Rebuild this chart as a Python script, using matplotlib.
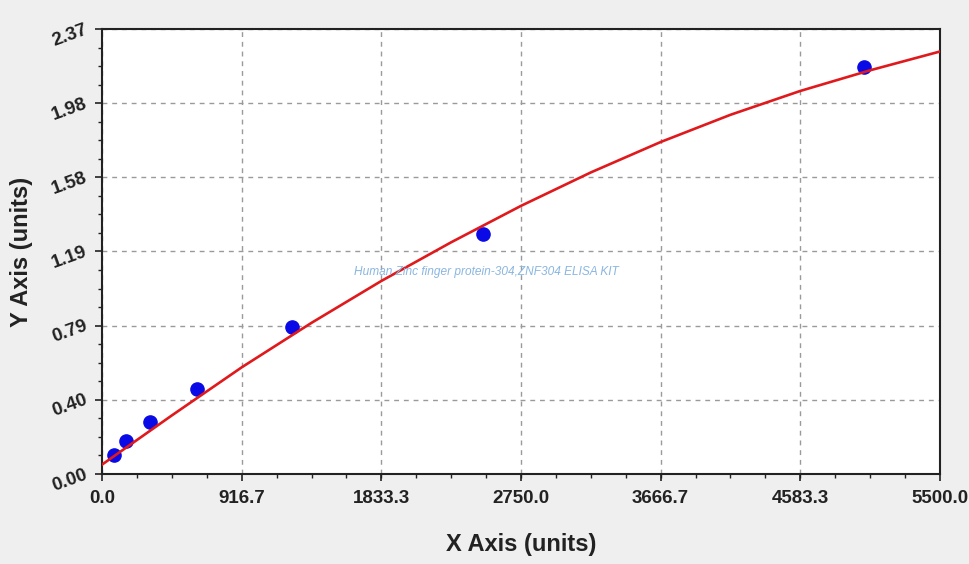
import matplotlib
matplotlib.use("Agg")
import matplotlib.pyplot as plt
from matplotlib.ticker import AutoMinorLocator

plt.rcParams['font.family'] = ['Liberation Sans', 'DejaVu Sans']

# standards (concentration vs OD)
conc = [78, 156, 312, 625, 1250, 2500, 5000]
od = [0.101, 0.176, 0.275, 0.453, 0.781, 1.276, 2.167]

# fitted curve
curve_x = [0, 458.3, 916.7, 1375.0, 1833.3, 2291.7, 2750.0,
           3208.3, 3666.7, 4125.0, 4583.3, 5041.7, 5500.0]
curve_y = [0.050, 0.312, 0.568, 0.805, 1.028, 1.234, 1.428,
           1.606, 1.768, 1.913, 2.040, 2.150, 2.250]

x_ticks = [0.0, 916.7, 1833.3, 2750.0, 3666.7, 4583.3, 5500.0]
y_ticks = [0.00, 0.395, 0.79, 1.185, 1.58, 1.975, 2.37]
y_tick_labels = ["0.00", "0.40", "0.79", "1.19", "1.58", "1.98", "2.37"]

watermark = "Human Zinc finger protein-304,ZNF304 ELISA KIT"

fig = plt.figure(figsize=(9.7, 5.64), dpi=100, facecolor='#efefef')
ax = fig.add_axes([0.1052, 0.1596, 0.8638, 0.789])
ax.set_facecolor('white')

ax.plot(conc, od, 'o', color='#0a0ae6', markersize=9.5, zorder=3)
ax.plot(curve_x, curve_y, color='#e0191c', linewidth=1.9, zorder=4)

ax.set_xlim(0, 5500)
ax.set_ylim(0, 2.37)
ax.set_xticks(x_ticks)
ax.set_xticklabels([f"{v:.1f}" for v in x_ticks], fontsize=13.5, fontweight='bold',
                   color='#222222')
ax.set_yticks(y_ticks)
ax.set_yticklabels(y_tick_labels, fontsize=13.5, fontweight='bold', color='#222222',
                   rotation=20, ha='right', va='center', rotation_mode='anchor')
ax.xaxis.set_minor_locator(AutoMinorLocator(4))
ax.yaxis.set_minor_locator(AutoMinorLocator(4))
ax.tick_params(which='major', direction='out', length=5, width=1.2, color='#222222')
ax.tick_params(which='minor', direction='out', length=3, width=1.0, color='#222222')
ax.tick_params(axis='x', which='major', pad=6.5)
ax.tick_params(axis='y', which='major', pad=6)

ax.grid(True, which='major', color='#9a9a9a', linestyle=(0, (3.5, 3.5)), linewidth=1.0)
ax.set_axisbelow(True)

for side in ['left', 'bottom', 'right', 'top']:
    ax.spines[side].set_color('#222222')
    ax.spines[side].set_linewidth(1.5)

ax.set_xlabel("X Axis (units)", fontsize=17, fontweight='bold', color='#222222', labelpad=19)
ax.set_ylabel("Y Axis (units)", fontsize=17, fontweight='bold', color='#222222', labelpad=12)

ax.text(0.459, 0.455, watermark, transform=ax.transAxes, fontsize=8.6,
        color='#8ab6e0', ha='center', va='center', style='italic', zorder=5)

fig.savefig("out.png", dpi=100, facecolor=fig.get_facecolor())
